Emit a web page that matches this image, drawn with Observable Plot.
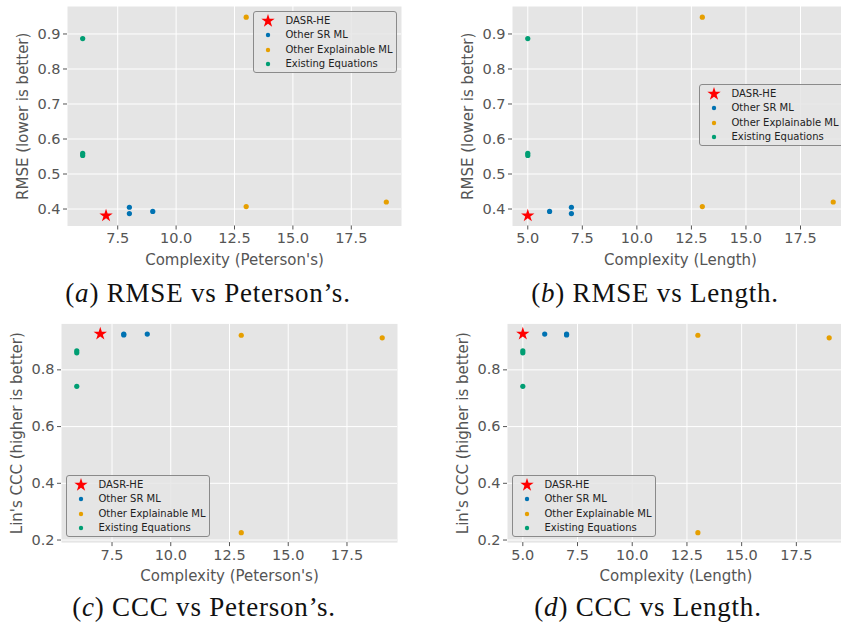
<!DOCTYPE html>
<html><head><meta charset="utf-8">
<script src="https://cdn.jsdelivr.net/npm/d3@7"></script>
<script src="https://cdn.jsdelivr.net/npm/@observablehq/plot@0.6"></script>
<style>
html,body{margin:0;padding:0;background:#fff;overflow:hidden;width:841px;height:631px;}
.panel{position:absolute;overflow:hidden;}
.panel svg{max-width:none !important;height:auto;}
.legend{position:absolute;border:1px solid #8a8a8a;border-radius:3px;background:rgba(229,229,229,0.85);font:10px "DejaVu Sans";color:#222;box-sizing:border-box;}
.legend .row{position:absolute;left:0;white-space:nowrap;line-height:12px;height:12px;}
.legend svg{position:absolute;}
.caption{position:absolute;font-family:"Liberation Serif";font-size:27px;line-height:27px;letter-spacing:0.8px;white-space:nowrap;transform:translateX(-50%);color:#111;}
</style></head><body>
<script>
// ---- data ----
const groups = ["DASR-HE", "Other SR ML", "Other Explainable ML", "Existing Equations"];
const groupColors = ["#FF0000", "#0072B2", "#E69F00", "#009E73"];
const pointGroup = ["DASR-HE", "Other SR ML", "Other SR ML", "Other SR ML",
  "Other Explainable ML", "Other Explainable ML", "Other Explainable ML",
  "Existing Equations", "Existing Equations", "Existing Equations"];
const complexityPeterson = [7, 8, 8, 9, 13, 13, 19, 6, 6, 6];
const complexityLength = [5, 7, 7, 6, 13, 13, 19, 5, 5, 5];
const rmse = [0.381, 0.405, 0.387, 0.393, 0.948, 0.407, 0.420, 0.887, 0.559, 0.553];
const ccc = [0.927, 0.926, 0.923, 0.926, 0.226, 0.922, 0.913, 0.742, 0.860, 0.867];
const xTicksPeterson = [7.5, 10, 12.5, 15, 17.5];
const xTicksLength = [5, 7.5, 10, 12.5, 15, 17.5];
const rmseTicks = [0.4, 0.5, 0.6, 0.7, 0.8, 0.9];
const cccTicks = [0.2, 0.4, 0.6, 0.8];
const captions = ["RMSE vs Peterson’s.", "RMSE vs Length.", "CCC vs Peterson’s.", "CCC vs Length."];
const captionLetters = ["a", "b", "c", "d"];

const idx = d3.range(pointGroup.length);
const fmt = d3.format(".1f");

function makePanel(p) {
  const div = document.createElement("div");
  div.className = "panel";
  div.style.left = p.left + "px";
  div.style.top = p.top + "px";
  div.style.width = p.clipWidth + "px";
  div.style.height = "300px";
  const chart = Plot.plot({
    width: p.marginLeft + p.frameWidth + 10,
    height: p.marginTop + p.frameHeight + 52,
    marginLeft: p.marginLeft, marginRight: 10, marginTop: p.marginTop, marginBottom: 52,
    style: {fontFamily: "DejaVu Sans", fontSize: "14px", color: "#555", background: "transparent", overflow: "visible", maxWidth: "none"},
    x: {domain: p.xDomain},
    y: {domain: p.yDomain},
    color: {domain: groups, range: groupColors},
    marks: [
      Plot.frame({fill: "#E5E5E5", stroke: null}),
      Plot.gridX(p.xTicks, {stroke: "white", strokeOpacity: 1, strokeWidth: 1}),
      Plot.gridY(p.yTicks, {stroke: "white", strokeOpacity: 1, strokeWidth: 1}),
      Plot.axisX(p.xTicks, {tickFormat: fmt, tickSize: 4, tickPadding: 3, label: null, fontSize: 14.5, stroke: "#555"}),
      Plot.axisY(p.yTicks, {tickFormat: fmt, tickSize: 4, tickPadding: 3, label: null, fontSize: 14.5, stroke: "#555"}),
      Plot.text([p.xLabel], {text: d => d, frameAnchor: "bottom", dy: 34, fontSize: 15, fill: "#555", lineAnchor: "middle", textAnchor: "middle"}),
      Plot.text([p.yLabel], {text: d => d, frameAnchor: "left", rotate: -90, dx: -44, fontSize: 15, fill: "#555", lineAnchor: "middle", textAnchor: "middle"}),
      Plot.dot(idx.filter(i => pointGroup[i] !== "DASR-HE"), {x: i => p.xs[i], y: i => p.ys[i], fill: i => pointGroup[i], r: 2.6, stroke: null}),
      Plot.dot(idx.filter(i => pointGroup[i] === "DASR-HE"), {x: i => p.xs[i], y: i => p.ys[i], fill: i => pointGroup[i], symbol: "star", r: 4.2, stroke: null})
    ]
  });
  chart.style.maxWidth = "none";
  div.appendChild(chart);
  document.body.appendChild(div);

  // legend
  const lg = document.createElement("div");
  lg.className = "legend";
  lg.style.left = p.legend[0] + "px";
  lg.style.top = p.legend[1] + "px";
  lg.style.width = p.legend[2] + "px";
  lg.style.height = "62px";
  const rowY = [9, 23, 37.5, 52];
  groups.forEach((g, k) => {
    const svg = d3.create("svg").attr("width", 20).attr("height", 20)
      .style("left", "4px").style("top", (rowY[k] - 10) + "px");
    if (k === 0) {
      svg.append("path").attr("transform", "translate(10,10)")
        .attr("d", d3.symbol(d3.symbolStar, Math.PI * 4.2 * 4.2)()).attr("fill", groupColors[k]);
    } else {
      svg.append("circle").attr("cx", 10).attr("cy", 10).attr("r", 2.2).attr("fill", groupColors[k]);
    }
    lg.appendChild(svg.node());
    const t = document.createElement("div");
    t.className = "row";
    t.style.left = "31.5px";
    t.style.top = (rowY[k] - 6) + "px";
    t.textContent = g;
    lg.appendChild(t);
  });
  document.body.appendChild(lg);

  const cap = document.createElement("div");
  cap.className = "caption";
  cap.style.left = p.caption[0] + "px";
  cap.style.top = (p.caption[1] - 22.6) + "px";
  cap.innerHTML = "(<i>" + captionLetters[p.k] + "</i>) " + captions[p.k];
  document.body.appendChild(cap);
}

makePanel({k: 0, left: 0, top: 0, clipWidth: 420, marginLeft: 67, frameWidth: 334, marginTop: 6, frameHeight: 219.5,
  xs: complexityPeterson, ys: rmse, xDomain: [5.35, 19.65], yDomain: [0.3515, 0.9785],
  xTicks: xTicksPeterson, yTicks: rmseTicks, xLabel: "Complexity (Peterson's)", yLabel: "RMSE (lower is better)",
  legend: [253, 11, 144], caption: [208, 303]});
makePanel({k: 1, left: 420, top: 0, clipWidth: 421, marginLeft: 92, frameWidth: 336, marginTop: 6, frameHeight: 219.5,
  xs: complexityLength, ys: rmse, xDomain: [4.3, 19.7], yDomain: [0.3515, 0.9785],
  xTicks: xTicksLength, yTicks: rmseTicks, xLabel: "Complexity (Length)", yLabel: "RMSE (lower is better)",
  legend: [699, 84, 150], caption: [655, 303]});
makePanel({k: 2, left: 0, top: 315, clipWidth: 420, marginLeft: 61, frameWidth: 336, marginTop: 8.4, frameHeight: 218.7,
  xs: complexityPeterson, ys: ccc, xDomain: [5.35, 19.65], yDomain: [0.191, 0.962],
  xTicks: xTicksPeterson, yTicks: cccTicks, xLabel: "Complexity (Peterson's)", yLabel: "Lin's CCC (higher is better)",
  legend: [66, 475, 144], caption: [204, 617]});
makePanel({k: 3, left: 420, top: 315, clipWidth: 421, marginLeft: 87, frameWidth: 337, marginTop: 8.4, frameHeight: 218.7,
  xs: complexityLength, ys: ccc, xDomain: [4.3, 19.7], yDomain: [0.191, 0.962],
  xTicks: xTicksLength, yTicks: cccTicks, xLabel: "Complexity (Length)", yLabel: "Lin's CCC (higher is better)",
  legend: [512, 475, 144], caption: [648, 617]});
</script>
</body></html>
